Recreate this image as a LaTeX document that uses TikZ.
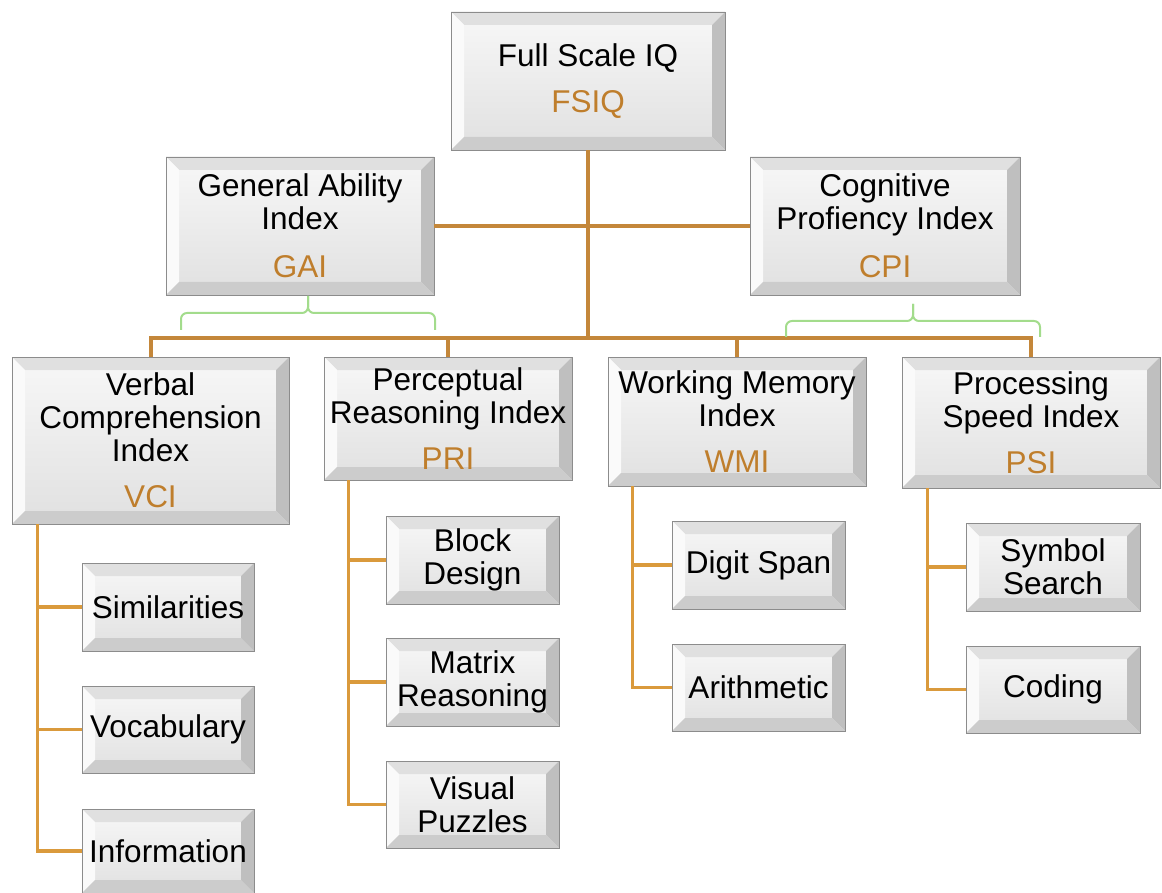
\documentclass[tikz,border=0pt]{standalone}
\usepackage{fontspec}
\setmainfont{Liberation Sans}
\usetikzlibrary{calc}
\definecolor{abbr}{HTML}{BF7E2C}
\definecolor{mainline}{HTML}{C4873A}
\definecolor{subline}{HTML}{DA9A3C}
\definecolor{bracegreen}{HTML}{A3DC8C}
\newcommand{\bfnt}{\fontsize{31.5}{33}\selectfont}
\tikzset{
 bev/.style={draw=black!45, line width=0.8pt, inner sep=0pt, align=center, text=black,
  font=\bfnt,
  path picture={
   \coordinate (pa) at (path picture bounding box.south west);
   \coordinate (pb) at (path picture bounding box.north east);
   \coordinate (pc) at (path picture bounding box.north west);
   \coordinate (pd) at (path picture bounding box.south east);
   \shade[top color=black!3, bottom color=black!12] (pa) rectangle (pb);
   \fill[black!12] (pc) -- (pb) -- ([shift={(-13pt,-13pt)}]pb) -- ([shift={(13pt,-13pt)}]pc) -- cycle;
   \fill[black!2] (pc) -- (pa) -- ([shift={(13pt,13pt)}]pa) -- ([shift={(13pt,-13pt)}]pc) -- cycle;
   \fill[black!25] (pb) -- (pd) -- ([shift={(-13pt,13pt)}]pd) -- ([shift={(-13pt,-13pt)}]pb) -- cycle;
   \fill[black!20] (pa) -- (pd) -- ([shift={(-13pt,13pt)}]pd) -- ([shift={(13pt,13pt)}]pa) -- cycle;
  }},
 conn/.style={draw=mainline, line width=4pt},
 subconn/.style={draw=subline, line width=3.5pt},
 brc/.style={draw=bracegreen, line width=2pt, rounded corners=6pt}
}
\newcommand{\ab}[1]{\textcolor{abbr}{#1}}
\begin{document}
\begin{tikzpicture}[x=1pt,y=-1pt]
\useasboundingbox (0,0) rectangle (1162,893);

\coordinate (hub) at (588,338);
% nodes
\node[bev, minimum width=274pt, minimum height=138pt] (fsiq) at (588,81) {Full Scale IQ\\[13pt]\ab{FSIQ}};
\node[bev, minimum width=268pt, minimum height=138pt] (gai) at (300,226) {General Ability\\Index\\[15pt]\ab{GAI}};
\node[bev, minimum width=270pt, minimum height=138pt] (cpi) at (885,226) {Cognitive\\Profiency Index\\[15pt]\ab{CPI}};

\node[bev, minimum width=277pt, minimum height=167pt] (vci) at (150.5,440.5) {Verbal\\Comprehension\\Index\\[13pt]\ab{VCI}};
\node[bev, minimum width=248pt, minimum height=123pt] (pri) at (448,418.5) {Perceptual\\Reasoning Index\\[13pt]\ab{PRI}};
\node[bev, minimum width=258pt, minimum height=129pt] (wmi) at (737,421.5) {Working Memory\\Index\\[13pt]\ab{WMI}};
\node[bev, minimum width=258pt, minimum height=131pt] (psi) at (1031,422.5) {Processing\\Speed Index\\[13pt]\ab{PSI}};

\node[bev, minimum width=172pt, minimum height=88pt] (sim) at (168,607) {Similarities};
\node[bev, minimum width=172pt, minimum height=87pt] (voc) at (168,729.5) {Vocabulary};
\node[bev, minimum width=172pt, minimum height=84pt] (inf) at (168,851) {Information};

\node[bev, minimum width=173pt, minimum height=88pt] (bd) at (472.5,560) {Block\\Design};
\node[bev, minimum width=173pt, minimum height=88pt] (mr) at (472.5,682) {Matrix\\Reasoning};
\node[bev, minimum width=173pt, minimum height=87pt] (vp) at (472.5,804.5) {Visual\\Puzzles};

\node[bev, minimum width=173pt, minimum height=88pt] (ds) at (758.5,565) {Digit Span};
\node[bev, minimum width=173pt, minimum height=87pt] (ar) at (758.5,687.5) {Arithmetic};

\node[bev, minimum width=174pt, minimum height=88pt] (ss) at (1053,567) {Symbol\\Search};
\node[bev, minimum width=174pt, minimum height=87pt] (cod) at (1053,689.5) {Coding};

% main connectors
\draw[conn] (fsiq.south) -- (hub);
\draw[conn] (gai.east) -- (cpi.west);
\draw[conn, line cap=butt] (vci.north) -- (vci.north |- hub) -- (psi.north |- hub) -- (psi.north);
\draw[conn] (pri.north |- hub) -- (pri.north);
\draw[conn] (wmi.north |- hub) -- (wmi.north);

% sub connectors
\draw[subconn] ([xshift=26pt]vci.south west) |- (inf.west);
\draw[subconn] ([xshift=26pt]vci.south west |- sim.west) -- (sim.west);
\draw[subconn] ([xshift=26pt]vci.south west |- voc.west) -- (voc.west);

\draw[subconn] ([xshift=25pt]pri.south west) |- (vp.west);
\draw[subconn] ([xshift=25pt]pri.south west |- bd.west) -- (bd.west);
\draw[subconn] ([xshift=25pt]pri.south west |- mr.west) -- (mr.west);

\draw[subconn] ([xshift=25pt]wmi.south west) |- (ar.west);
\draw[subconn] ([xshift=25pt]wmi.south west |- ds.west) -- (ds.west);

\draw[subconn] ([xshift=26pt]psi.south west) |- (cod.west);
\draw[subconn] ([xshift=26pt]psi.south west |- ss.west) -- (ss.west);

% braces
\draw[brc] (181,330) |- (308,313) -- (308,296);
\draw[brc] (435,330) |- (308,313) -- (308,296);
\draw[brc] (786,337) |- (913,321) -- (913,304);
\draw[brc] (1040,337) |- (913,321) -- (913,304);
\end{tikzpicture}
\end{document}
